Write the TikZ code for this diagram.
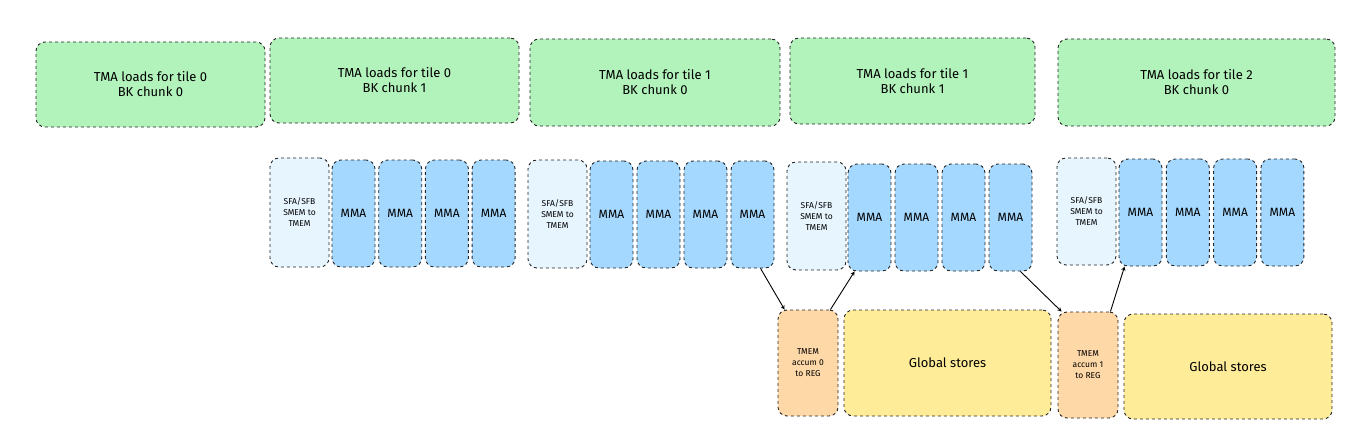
\documentclass[tikz,border=0pt]{standalone}
\usepackage{fontspec}
\setmainfont{Fira Sans}
\begin{document}
\begin{tikzpicture}[x=1pt,y=-1pt,
 box/.style={draw=black!85,dashed,line width=0.9pt,rounded corners=9pt,align=center,inner sep=0pt},
 tma/.style={box,fill={rgb,255:red,178;green,242;blue,187}},
 sfa/.style={box,fill={rgb,255:red,231;green,245;blue,255}},
 mma/.style={box,fill={rgb,255:red,165;green,216;blue,255}},
 acc/.style={box,fill={rgb,255:red,255;green,216;blue,168}},
 glob/.style={box,fill={rgb,255:red,255;green,236;blue,153}},
 big/.style={font=\fontsize{13}{15}\selectfont,align=center},
 small/.style={font=\fontsize{8.5}{11}\selectfont,align=center},
 arr/.style={->,line width=0.9pt,>=stealth}]
\useasboundingbox (0,0) rectangle (1358,444);
\newcommand{\bx}[6]{\node[#1,minimum width={#4-#2},minimum height={#5-#3}] (#6) at ({(#2+#4)/2},{(#3+#5)/2}) {};}
\bx{tma}{36}{42}{265}{127}{t1}\node[big] at (t1) {TMA loads for tile 0\\BK chunk 0};
\bx{tma}{270}{38}{519}{123}{t2}\node[big] at (t2) {TMA loads for tile 0\\BK chunk 1};
\bx{tma}{530}{39}{780}{126}{t3}\node[big] at (t3) {TMA loads for tile 1\\BK chunk 0};
\bx{tma}{790}{38}{1035}{124}{t4}\node[big] at (t4) {TMA loads for tile 1\\BK chunk 1};
\bx{tma}{1058}{39}{1335}{126}{t5}\node[big] at (t5) {TMA loads for tile 2\\BK chunk 0};
\newcommand{\grp}[7]{%
\bx{sfa}{#1}{#2}{#1+59}{#3}{s#7}\node[small] at (s#7) {SFA/SFB\\SMEM to\\TMEM};
\foreach \i in {0,1,2,3}{\pgfmathsetmacro{\xa}{#4+\i*#6}\bx{mma}{\xa}{#5}{\xa+43}{#5+107}{m#7\i}\node[font=\fontsize{12}{14}\selectfont] at (m#7\i) {MMA};}}
\grp{270}{158}{267}{332}{160}{46.7}{a}
\grp{528}{160}{268}{590}{161}{47}{b}
\grp{787}{162}{270}{848}{164}{47}{c}
\grp{1057}{158}{265}{1119}{159}{47.3}{d}
\bx{acc}{778}{310}{838}{416}{o1}\node[small] at (o1) {TMEM\\accum 0\\to REG};
\bx{glob}{844}{310}{1051}{416}{g1}\node[big] at (g1) {Global stores};
\bx{acc}{1058}{312}{1118}{418}{o2}\node[small] at (o2) {TMEM\\accum 1\\to REG};
\bx{glob}{1124}{314}{1332}{419}{g2}\node[big] at (g2) {Global stores};
\draw[arr] ([xshift=30pt]mb3.south west) -- ([xshift=7pt]o1.north west);
\draw[arr] ([xshift=-8pt]o1.north east) -- ([xshift=7pt]mc0.south west);
\draw[arr] ([xshift=-12pt]mc3.south east) -- ([xshift=4pt]o2.north west);
\draw[arr] ([xshift=-8pt]o2.north east) -- ([xshift=6pt]md0.south west);
\end{tikzpicture}
\end{document}
